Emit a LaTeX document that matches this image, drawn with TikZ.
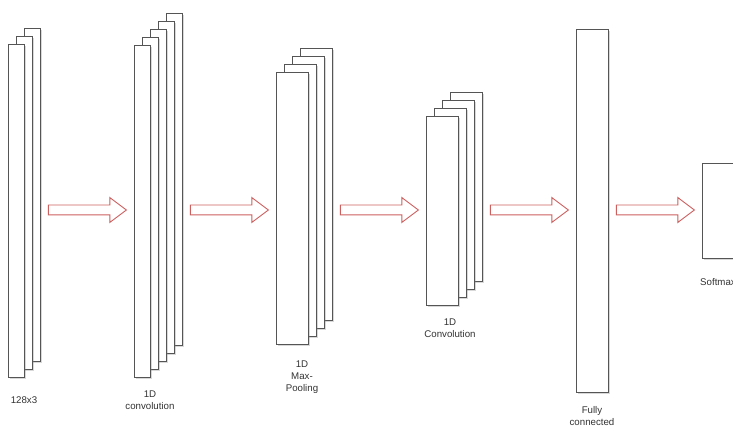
\documentclass[tikz,border=0pt]{standalone}
\usepackage{fontspec}
\setsansfont{Liberation Sans}
\usetikzlibrary{shapes.arrows}
\usetikzlibrary{shadows}
\usetikzlibrary{calc}

\definecolor{edgegray}{RGB}{85,85,85}
\definecolor{arrowred}{RGB}{205,95,95}

\tikzset{
  layer/.style={draw=edgegray, fill=white, line width=1.1pt, anchor=north west, inner sep=0pt,
    drop shadow={shadow xshift=1pt, shadow yshift=-1pt, opacity=0.3}},
  flow/.style={single arrow, draw=arrowred, fill=white, line width=0.9pt, inner sep=4.5pt,
    single arrow head extend=7.5pt, single arrow tip angle=74, minimum height=78pt, xshift=-3.5pt},
  caption/.style={font=\sffamily\fontsize{9.7}{12}\selectfont, text=black!80, align=center,
    anchor=north, inner sep=0pt}
}

\begin{document}
\begin{tikzpicture}[x=1pt,y=-1pt]
      \clip (0,0) rectangle (733,427);
      \fill[white] (0,0) rectangle (733,427);
      \coordinate (axis) at (0,210);
      % input
      \foreach \i in {2,1,0}
        \node[layer, minimum width=16pt, minimum height=333pt] (in\i) at (8+8*\i,44-8*\i) {};
      % first convolution
      \foreach \i in {4,3,2,1,0}
        \node[layer, minimum width=16pt, minimum height=332pt] (convA\i) at (134+8*\i,45-8*\i) {};
      % max pooling
      \foreach \i in {3,2,1,0}
        \node[layer, minimum width=32pt, minimum height=272pt] (pool\i) at (276+8*\i,72-8*\i) {};
      % second convolution
      \foreach \i in {3,2,1,0}
        \node[layer, minimum width=32pt, minimum height=189pt] (convB\i) at (426+8*\i,116-8*\i) {};
      % dense and output
      \node[layer, minimum width=32pt, minimum height=363pt] (fc) at (576,29) {};
      \node[layer, minimum width=36pt, minimum height=95pt] (soft) at (702,163) {};
      % flow arrows
      \foreach \a/\b [count=\k] in {in2/convA0, convA4/pool0, pool3/convB0, convB3/fc, fc/soft}
        \node[flow] (arr\k) at ($(\a.east |- axis)!0.5!(\b.west |- axis)$) {};
      % captions
      \node[caption] (lin) at (24,397) {128x3};
      \node[caption] (lconvA) at (150,391) {1D\\convolution};
      \node[caption] (lpool) at (302,361) {1D\\Max-\\Pooling};
      \node[caption] (lconvB) at (450,319) {1D\\Convolution};
      \node[caption] (lfc) at (592,406) {Fully\\connected};
      \node[caption] (lsoft) at (718,278) {Softmax};
\end{tikzpicture}
\end{document}
